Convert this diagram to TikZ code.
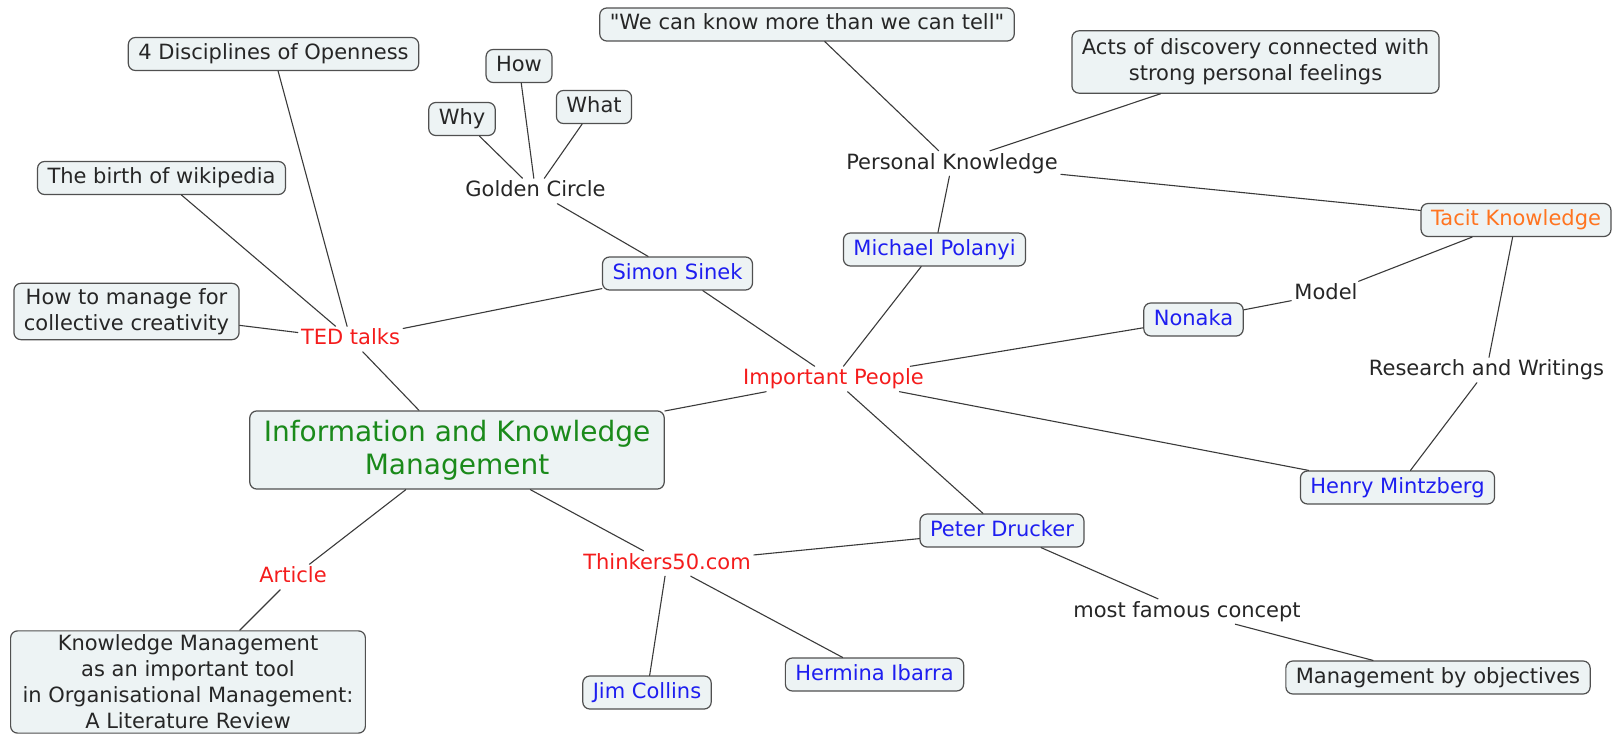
\documentclass[tikz,border=0pt]{standalone}
\usepackage{fontspec}
\setmainfont{DejaVu Sans}
\definecolor{boxfill}{HTML}{EDF3F4}
\definecolor{boxline}{HTML}{505050}
\definecolor{lineclr}{HTML}{3A3A3A}
\definecolor{personblue}{HTML}{1E1EF0}
\definecolor{linkred}{HTML}{F41C1C}
\definecolor{rootgreen}{HTML}{1A8A1A}
\definecolor{tacitorange}{HTML}{FF7420}
\begin{document}
\begin{tikzpicture}[x=1pt, y=-1pt, font=\fontsize{21}{26}\selectfont, line join=round, line cap=round,
	notebox/.style={draw=boxline, fill=boxfill, rounded corners=7pt, line width=1.2pt, inner xsep=10pt, inner ysep=6pt, align=center, text=black!85},
	tagbox/.style={notebox, text height=15pt, text depth=4pt, inner ysep=7pt},
	person/.style={tagbox, text=personblue},
	link/.style={inner sep=3pt, text height=15pt, text depth=4pt, text=black!85},
	redlink/.style={link, text=linkred},
	conn/.style={draw=lineclr, line width=1.1pt}]
	\useasboundingbox (0,0) rectangle (1612,741);
	
	% root
	\node[notebox, text=rootgreen, font=\fontsize{28}{33}\selectfont, inner xsep=14pt, inner ysep=9pt] (info) at (457,450) {Information and Knowledge\\Management};
	
	% TED talks branch
	\node[redlink] (ted) at (350.5,339) {TED talks};
	\node[tagbox] (disc) at (273.5,54) {4 Disciplines of Openness};
	\node[tagbox] (wiki) at (161.5,178) {The birth of wikipedia};
	\node[notebox, inner ysep=5pt] (manage) at (126.5,311.5) {How to manage for\\collective creativity};
	\node[person] (sinek) at (677.5,273.5) {Simon Sinek};
	\node[link] (golden) at (535.5,191) {Golden Circle};
	\node[tagbox] (how) at (519,66) {How};
	\node[tagbox] (why) at (462,119) {Why};
	\node[tagbox] (what) at (594,107) {What};
	
	% important people
	\node[redlink] (people) at (833.5,379) {Important People};
	\node[person] (polanyi) at (934.5,249.5) {Michael Polanyi};
	\node[link] (personal) at (952,163.5) {Personal Knowledge};
	\node[tagbox] (quote) at (807,24.5) {\textquotedbl We can know more than we can tell\textquotedbl};
	\node[notebox, inner ysep=8pt] (acts) at (1255.5,62) {Acts of discovery connected with\\strong personal feelings};
	\node[tagbox, text=tacitorange] (tacit) at (1516,220) {Tacit Knowledge};
	\node[person] (nonaka) at (1193.5,319.5) {Nonaka};
	\node[link] (model) at (1326,294) {Model};
	\node[link] (research) at (1486.5,370) {Research and Writings};
	\node[person] (mintz) at (1397.5,487.5) {Henry Mintzberg};
	\node[person] (drucker) at (1002,530.5) {Peter Drucker};
	\node[link] (famous) at (1187,611.5) {most famous concept};
	\node[tagbox] (mbo) at (1438,677.5) {Management by objectives};
	
	% thinkers50
	\node[redlink] (thinkers) at (667,563.5) {Thinkers50.com};
	\node[person] (ibarra) at (874.5,674.5) {Hermina Ibarra};
	\node[person] (collins) at (647,692.5) {Jim Collins};
	
	% article
	\node[redlink] (article) at (293,577) {Article};
	\node[notebox, inner xsep=12pt, inner ysep=4pt] (kmlit) at (188,682) {Knowledge Management\\as an important tool\\in Organisational Management:\\A Literature Review};
	
	% connectors
	\draw[conn] (info) -- (ted) (ted) -- (disc) (ted) -- (wiki) (ted) -- (manage) (ted) -- (sinek);
	\draw[conn] (sinek) -- (golden) (golden) -- (how) (golden) -- (why) (golden) -- (what);
	\draw[conn] (info) -- (people) (people) -- (sinek) (people) -- (polanyi) (people) -- (nonaka) (people) -- (mintz) (people) -- (drucker);
	\draw[conn] (polanyi) -- (personal) (personal) -- (quote) (personal) -- (acts) (personal) -- (tacit);
	\draw[conn] (nonaka) -- (model) (model) -- (tacit) (tacit) -- (research) (research) -- (mintz);
	\draw[conn] (drucker) -- (famous) (famous) -- (mbo);
	\draw[conn] (info) -- (thinkers) (thinkers) -- (drucker) (thinkers) -- (ibarra) (thinkers) -- (collins);
	\draw[conn] (info) -- (article) (article) -- (kmlit);
\end{tikzpicture}
\end{document}
